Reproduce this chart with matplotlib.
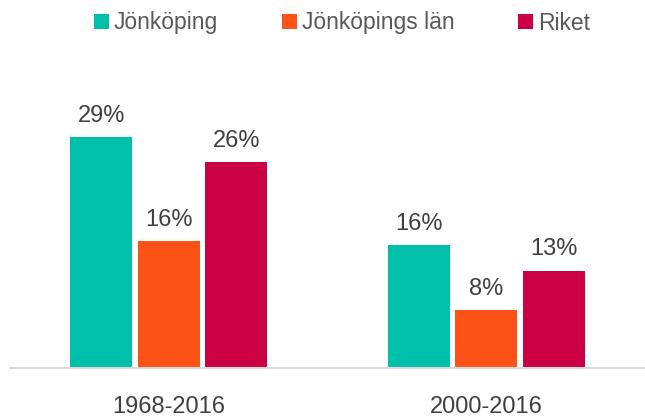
import matplotlib
matplotlib.use("Agg")
import matplotlib.pyplot as plt
import numpy as np
from matplotlib.patches import Patch

categories = ["1968-2016", "2000-2016"]
series_names = ["Jönköping", "Jönköpings län", "Riket"]
values = {
    "Jönköping": [29.0, 15.4],
    "Jönköpings län": [15.9, 7.3],
    "Riket": [25.8, 12.2],
}
labels = {
    "Jönköping": ["29%", "16%"],
    "Jönköpings län": ["16%", "8%"],
    "Riket": ["26%", "13%"],
}
colors = ["#00C0AA", "#FC5216", "#CC0044"]

plt.rcParams['font.family'] = ['Liberation Sans', 'DejaVu Sans']
W, H = 645, 418
fig = plt.figure(figsize=(W / 100, H / 100), dpi=100)
base = 368
top = 368 - 35 * 7.97
ax = fig.add_axes([10 / W, (H - base) / H, 635 / W, (base - top) / H])

x = np.arange(len(categories))
width = 0.195
step = 0.2126
text_color = "#404040"
for i, name in enumerate(series_names):
    pos = x + (i - 1) * step
    bars = ax.bar(pos, values[name], width, color=colors[i], zorder=2)
    for b, lab in zip(bars, labels[name]):
        ax.annotate(lab, (b.get_x() + b.get_width() / 2, b.get_height()),
                    xytext=(0, 11), textcoords="offset points",
                    ha="center", va="baseline", fontsize=17, color=text_color)

ax.set_xlim(-0.5, 1.5)
ax.set_ylim(0, 35)
for s in ["top", "right", "left"]:
    ax.spines[s].set_visible(False)
ax.spines["bottom"].set_color("#d9d9d9")
ax.spines["bottom"].set_linewidth(1.5)
ax.set_yticks([])
ax.set_xticks(x)
ax.set_xticklabels(categories, fontsize=17, color=text_color)
ax.tick_params(axis="x", length=0, pad=20)

handles = [Patch(facecolor=c, edgecolor="none") for c in colors]
fig.legend(handles, series_names, loc="center", bbox_to_anchor=(342 / W, 1 - 23 / H),
           ncol=3, frameon=False, fontsize=16.5, handlelength=0.65, handleheight=0.65,
           handletextpad=0.2, columnspacing=2.8, labelcolor="#595959")

fig.savefig("out.png", dpi=100)
